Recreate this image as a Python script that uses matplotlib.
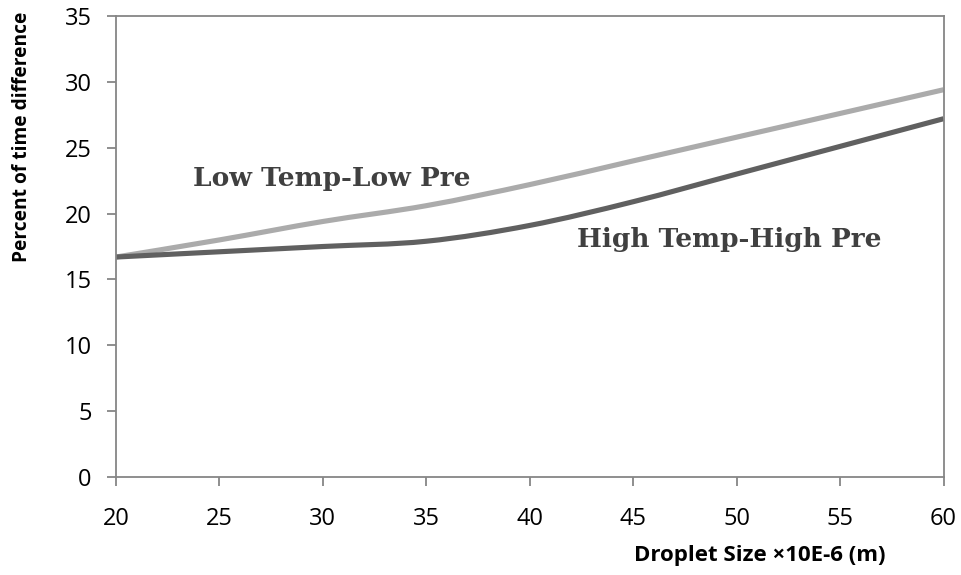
import numpy as np
import matplotlib
matplotlib.use("Agg")
import matplotlib.pyplot as plt
from matplotlib.path import Path
from matplotlib.patches import PathPatch

droplet_size = [20, 25, 30, 35, 40, 45, 50, 55, 60]
low_temp_low_pre = [16.7, 18.0, 19.4, 20.6, 22.2, 24.0, 25.8, 27.6, 29.4]
high_temp_high_pre = [16.7, 17.1, 17.5, 17.9, 19.1, 20.9, 23.0, 25.1, 27.2]

x_ticks = [20, 25, 30, 35, 40, 45, 50, 55, 60]
y_ticks = [0, 5, 10, 15, 20, 25, 30, 35]


def smooth_path(x, y):
    # Excel-style smoothed line: Catmull-Rom segments as cubic Bezier curves
    pts = np.column_stack([x, y]).astype(float)
    verts = [pts[0]]
    codes = [Path.MOVETO]
    n = len(pts)
    for i in range(n - 1):
        p0 = pts[max(i - 1, 0)]
        p1 = pts[i]
        p2 = pts[i + 1]
        p3 = pts[min(i + 2, n - 1)]
        c1 = p1 + (p2 - p0) / 6.0
        c2 = p2 - (p3 - p1) / 6.0
        verts += [c1, c2, p2]
        codes += [Path.CURVE4] * 3
    return Path(verts, codes)


fig = plt.figure(figsize=(9.61, 5.75), dpi=100)
ax = fig.add_axes([0.1207, 0.1704, 0.8611, 0.8018])

ax.add_patch(PathPatch(smooth_path(droplet_size, low_temp_low_pre), fill=False,
                       edgecolor="#ababab", lw=3.7, capstyle="butt"))
ax.add_patch(PathPatch(smooth_path(droplet_size, high_temp_high_pre), fill=False,
                       edgecolor="#606060", lw=3.7, capstyle="butt"))

ax.set_xlim(20, 60)
ax.set_ylim(0, 35)
ax.set_xticks(x_ticks)
ax.set_yticks(y_ticks)

for s in ax.spines.values():
    s.set_color("#868686")
    s.set_linewidth(1.3)

ax.tick_params(axis="both", direction="out", length=6.5, width=1.3, color="#868686",
               labelsize=17, labelcolor="black")
ax.tick_params(axis="y", pad=11)
ax.tick_params(axis="x", pad=15)
for lbl in ax.get_xticklabels() + ax.get_yticklabels():
    lbl.set_family("Open Sans")

ax.text(23.7, 22.7, "Low Temp-Low Pre", family="DejaVu Serif", fontweight="bold",
        fontsize=19, color="#404040", va="center", ha="left")
ax.text(42.3, 18.0, "High Temp-High Pre", family="DejaVu Serif", fontweight="bold",
        fontsize=19, color="#404040", va="center", ha="left")

fig.text(22 / 961, 1 - 137 / 575, "Percent of time difference", rotation=90,
         family="Open Sans", fontweight="bold", fontsize=13.8, ha="center", va="center")
fig.text(760 / 961, 1 - 555 / 575, "Droplet Size \u00d710E-6 (m)",
         family="Open Sans", fontweight="bold", fontsize=16, ha="center", va="center")

fig.savefig("out.png", dpi=100)
